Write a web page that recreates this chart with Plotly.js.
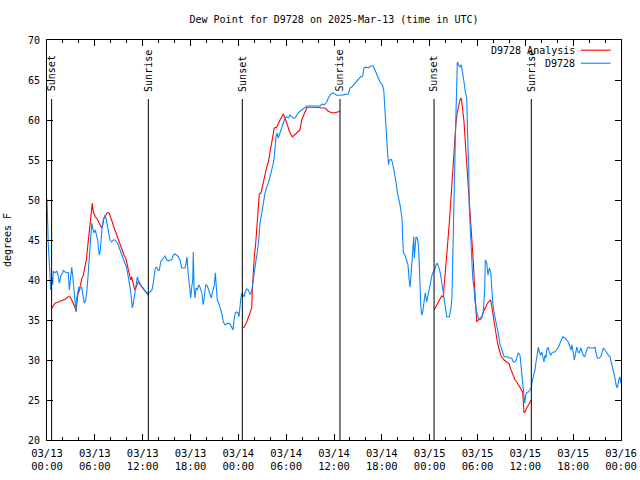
<!DOCTYPE html>
<html>
<head>
<meta charset="utf-8">
<script src="https://cdn.plot.ly/plotly-3.0.1.min.js"></script>
<style>html,body{margin:0;padding:0;background:#fff;}#chart{width:640px;height:480px;}</style>
</head>
<body>
<div id="chart"></div>
<script>
// Hours since 2025-03-13 00:00 UTC
const stationHours = [
0,0.16,0.38,0.46,0.59,0.72,0.79,1.0,1.22,1.42,
1.54,1.76,1.97,2.04,2.26,2.47,2.67,2.80,2.97,3.10,
3.22,3.30,3.42,3.55,3.64,3.73,3.85,3.98,4.05,4.14,
4.35,4.55,4.68,4.85,4.98,5.11,5.23,5.31,5.39,5.48,
5.61,5.73,5.90,6.06,6.23,6.36,6.44,6.56,6.69,6.77,
6.90,7.06,7.28,7.40,7.49,7.61,7.74,7.90,8.12,8.32,
8.53,8.74,8.94,9.16,9.37,9.57,9.78,10.0,10.12,10.25,
10.41,10.57,10.70,10.83,11.0,11.16,11.33,11.45,11.67,11.88,
12.08,12.29,12.51,12.71,12.92,13.17,13.33,13.46,13.59,13.76,
13.96,14.09,14.26,14.43,14.59,14.80,15.02,15.22,15.43,15.64,
15.84,16.06,16.27,16.47,16.68,16.90,17.10,17.31,17.44,17.56,
17.69,17.81,17.94,18.03,18.15,18.28,18.35,18.44,18.57,18.69,
18.85,19.03,19.19,19.41,19.61,19.78,19.91,20.11,20.28,20.45,
20.61,20.74,20.86,20.99,21.11,21.20,21.36,21.54,21.70,21.91,
22.12,22.33,22.54,22.74,22.96,23.17,23.33,23.46,23.62,23.80,
23.96,24.08,24.21,24.34,24.46,24.59,24.71,24.84,25.05,25.25,
25.38,25.50,25.68,25.88,26.00,26.18,26.34,26.51,26.72,26.93,
27.13,27.35,27.56,27.76,27.97,28.19,28.39,28.51,28.60,28.73,
28.85,29.01,29.23,29.44,29.64,29.85,30.07,30.27,30.48,30.70,
30.90,31.11,31.32,31.52,31.74,32.15,32.58,32.99,33.62,34.25,
34.53,34.78,35.09,35.29,35.62,35.91,36.34,36.97,37.38,37.80,
38.01,38.22,38.64,39.05,39.35,39.60,39.76,40.02,40.30,40.61,
40.93,41.14,41.36,41.56,41.77,42.06,42.24,42.36,42.44,42.52,
42.61,42.74,42.86,42.94,43.15,43.31,43.44,43.57,43.78,43.94,
44.12,44.28,44.41,44.53,44.62,44.69,44.91,45.12,45.28,45.41,
45.53,45.66,45.79,45.87,46.00,46.07,46.16,46.29,46.45,46.58,
46.70,46.79,46.88,47.00,47.13,47.29,47.45,47.63,47.79,47.96,
48.13,48.29,48.46,48.63,48.80,48.96,49.14,49.30,49.51,49.71,
49.93,50.14,50.47,50.68,50.80,50.89,50.97,51.05,51.14,51.22,
51.31,51.39,51.47,51.64,51.81,51.97,52.15,52.31,52.47,52.65,
52.77,52.90,52.97,53.10,53.27,53.40,53.56,53.69,53.90,54.10,
54.32,54.53,54.73,54.91,54.98,55.16,55.32,55.48,55.66,55.78,
55.91,56.07,56.24,56.41,56.57,56.70,56.82,56.99,57.16,57.33,
57.49,57.74,57.99,58.29,58.49,58.71,58.92,59.12,59.33,59.46,
59.58,59.71,59.83,59.92,60.05,60.17,60.37,60.59,60.75,60.84,
61.00,61.21,61.34,61.50,61.63,61.75,61.93,62.06,62.18,62.34,
62.47,62.59,62.68,62.85,63.01,63.18,63.35,63.51,63.72,63.94,
64.14,64.35,64.48,64.69,64.98,65.19,65.39,65.61,65.73,65.86,
66.02,66.14,66.27,66.45,66.61,66.77,66.95,67.11,67.27,67.45,
67.61,67.78,67.95,68.11,68.53,68.74,68.87,69.03,69.28,69.46,
69.62,69.78,70.00,70.21,70.41,70.62,70.84,71.04,71.21,71.38,
71.54,71.71,71.88,71.97
];
const stationDewF = [
50.1,44.4,40.4,38.75,40.4,39.4,41.1,40.9,41.1,40.5,
39.6,40.6,40.9,41.25,41,40.9,40.9,38.75,40.6,41.6,
40.6,39.6,38.1,36.6,36,37.75,38.4,39.1,38.5,39,
39.1,38.1,37.1,37.5,38.4,40,41.6,43.4,45,45.9,
47.1,46.5,45.9,46.25,45.4,45,44.1,43.1,43.75,45.4,
46.5,47.5,48.1,47.75,47.1,46.5,45.9,45,44.75,45,
45,44.75,44.4,43.75,43.1,42.75,42.1,41.5,40.9,40,
39.1,37.9,36.5,37.1,38.1,39.6,40.4,40,39.4,39.1,
39,38.6,38.4,38.4,38.5,38.75,39.6,40.9,41.5,41.6,
41.2,41.25,42.25,42.5,42.75,43,42.5,42.4,42.5,42.5,
43.1,43.25,43.1,42.9,42.5,41.5,41.5,41.5,42.1,42.9,
41,39.6,38.6,37.75,39.1,40,43.5,39.1,37.75,39,
38.75,39.4,39.1,38.4,36.9,38.4,39.4,39.25,38.75,38.4,
37.75,38.4,38.75,39.4,40.9,39.1,37.5,37.1,36.6,35.9,
34.75,34.4,34.5,34.6,34.5,34.1,33.75,35,35.9,36,
35.9,35.4,37.1,37.9,38.4,38.1,37.9,38.4,38.9,38.75,
38.4,38.2,38.6,40.2,41.25,42.2,43.2,44.5,47.1,48.4,
49.6,50.9,51.6,52.1,52.9,53.75,54.6,55.4,56.6,57.9,
58.4,57.75,58.4,59.1,59.75,60.25,60.4,60.25,60.6,60.4,
60.25,60.25,60.6,60.9,61.1,61.4,61.75,61.75,61.75,61.75,
62,61.9,62.25,62.75,63.25,63.4,63.1,63.1,63.2,63.25,
64,64.1,64.6,65,65.4,65.5,66.5,66.6,66.5,66.75,
66.75,66.25,65.6,65.25,64.75,64.4,63.75,61.9,59.75,58.1,
56.9,55.6,54.4,55,55.1,54.75,54.1,53.5,52.25,51,
50.25,49.4,48.5,47.75,45.25,43.5,43.1,42.5,41.9,40.25,
39.1,40.6,43.1,44.4,45.4,42.75,44,45.4,45.25,44.4,
41.9,39,36.9,35.6,36,37.25,38.4,37.25,38.1,39,
39.75,40.6,41,41.25,41.9,42.1,41.6,41,39.75,38.5,
37.25,35.4,35.4,36.5,38.1,41.5,44.75,49.75,54,57.75,
61.9,64.75,67.25,66.9,66.6,66.9,66,64.75,63.5,62.75,
57.75,54,49,46.5,42.25,40.25,39,37.25,36,35.25,
35,35.25,36,39,42.5,42.1,40.6,41.5,41,39,
37.25,36,35.25,34.4,33.5,32.75,31.9,31.5,30.9,30.4,
30.4,30.4,30.25,30.25,29.75,29.75,30.25,30.9,30.6,29.1,
27.9,26.9,25,24.6,25.6,25.9,26,26.25,26.5,27.25,
27.9,28.75,29.75,30.9,31.6,31,30.6,31,30.4,29.75,
30.6,30.25,31.25,31.6,31,30.6,30.9,31,31,31.25,
31.6,32.1,32.5,32.9,32.75,32.5,32.25,31.6,31.25,31.9,
30.9,30,30.6,31.6,31,30.9,31.5,31,30.6,30.4,
30.9,31.5,31.6,31.5,31.5,31.6,30.9,30.25,30.25,30.4,
30.9,31.5,31.25,30.9,30.6,30.4,29.6,28.75,27.9,26.9,
26.5,27.5,27.9,27.1
];
// Analysis (night-time segments; null separates segments)
const analysisHours = [
0.58,0.72,1.0,1.42,1.84,2.26,2.67,2.89,3.10,3.30,
3.51,3.64,3.73,3.85,4.05,4.23,4.39,4.55,4.68,4.80,
4.93,5.06,5.18,5.31,5.43,5.56,5.68,5.81,5.93,6.06,
6.23,6.44,6.65,6.86,6.99,7.15,7.36,7.56,7.78,7.99,
8.19,8.40,8.62,8.82,9.03,9.25,9.45,9.66,9.87,10.0,
10.12,10.25,10.37,10.50,10.62,10.75,10.91,11.04,11.45,12.08,
12.71,18.0,
24.55,24.74,25.05,25.34,25.68,25.75,25.88,26.0,26.18,26.30,
26.43,26.51,26.63,26.85,27.01,27.18,27.35,27.56,27.76,27.97,
28.19,28.39,28.51,28.81,29.01,29.23,29.44,29.64,29.85,30.07,
30.27,30.48,30.77,31.11,31.45,31.74,31.95,32.15,32.36,32.58,
32.78,33.20,33.83,34.46,34.87,35.29,35.71,36.13,36.54,36.75,
42.0,
48.55,48.88,49.21,49.51,49.71,49.80,49.96,50.14,50.30,50.47,
50.64,50.80,50.97,51.14,51.31,51.47,51.64,51.81,51.97,52.15,
52.31,52.47,52.65,52.81,52.97,53.15,53.31,53.48,53.60,53.73,
53.90,54.10,54.32,54.53,54.73,54.94,55.16,55.36,55.66,55.82,
55.99,56.16,56.32,56.49,56.66,56.82,56.99,57.16,57.33,57.67,
57.99,58.08,58.29,58.49,58.71,58.92,59.12,59.33,59.54,59.67,
59.83,59.96,60.17,60.37,60.59,60.75
];
const analysisDewF = [
36.4,36.6,37.1,37.25,37.4,37.6,37.9,37.9,37.5,37.1,
36.6,36.1,37.1,38.1,38.75,39.6,40.25,40.6,41.25,41.9,
42.5,43.75,45,46.6,47.75,48.75,49.6,48.5,48.1,47.9,
47.75,47.25,46.9,46.5,46.9,47.75,48.1,48.4,48.4,47.9,
47.25,46.6,46,45.4,44.75,44.1,43.5,43.1,42.75,42.1,
41.5,40.9,40.25,40,40.4,39.6,39.1,38.75,39.8,38.9,
38.1,null,
34.0,34.1,34.75,35.6,36.5,38.75,41.25,42.9,44.6,46.25,
47.9,49.6,50.75,50.9,51.6,52.5,53.4,54.1,54.75,55.9,
56.9,57.9,59,59.1,59.6,60,60.4,60.75,60.25,59.6,
59,58.4,57.9,58.25,58.5,58.75,60,60.5,60.9,61.5,
61.6,61.6,61.6,61.5,61.5,61.1,60.9,60.9,61,61.1,
null,
36.25,36.9,37.5,38,37.9,39.4,41,43.1,44.75,47.25,
49.75,52.25,55.6,57.75,59.75,61,61.9,62.5,62.75,61.5,
59.75,57.25,54.75,52.25,49.75,47.25,44.75,42.25,39.75,37.25,
34.75,35,35.25,35.4,36,36.5,36.9,37.25,37.5,36.5,
35.25,34,33.1,32.25,31.5,30.9,30.4,30.25,30,29.75,
29.5,29.1,28.5,27.9,27.5,27.25,26.9,26.6,26.25,26,
23.4,23.5,24,24.4,24.75,25
];
const sunEventHours = [0.58, 12.71, 24.5, 36.75, 48.55, 60.75];
const sunEventLabels = ['Sunset','Sunrise','Sunset','Sunrise','Sunset','Sunrise'];
const seriesNames = ['D9728 Analysis', 'D9728'];
const seriesColors = ['#ff0000', '#0a88ff'];

const T0 = Date.UTC(2025, 2, 13);
const H = 3600000;
const toT = h => T0 + h * H;
const mono = 'DejaVu Sans Mono, monospace';

const traces = [
  {x: analysisHours.map(toT), y: analysisDewF, type: 'scatter', mode: 'lines', name: seriesNames[0],
   line: {color: seriesColors[0], width: 1.1}, connectgaps: false, showlegend: false},
  {x: stationHours.map(toT), y: stationDewF, type: 'scatter', mode: 'lines', name: seriesNames[1],
   line: {color: seriesColors[1], width: 1.1}, showlegend: false}
];

const shapes = [];
const annotations = [];
sunEventHours.forEach((h, i) => {
  shapes.push({type: 'line', xref: 'x', yref: 'paper', x0: toT(h), x1: toT(h), y0: 0, y1: 0.8525,
    line: {color: '#000', width: 1}});
  annotations.push({xref: 'x', yref: 'paper', x: toT(h), y: 0.866, text: sunEventLabels[i],
    textangle: -90, showarrow: false, xanchor: 'center', yanchor: 'bottom',
    font: {family: mono, size: 10, color: '#000'}});
});
// legend (gnuplot style: text right-aligned, sample to the right)
const legY = [0.9745, 0.942];
seriesNames.forEach((n, i) => {
  annotations.push({xref: 'paper', yref: 'paper', x: 0.9235, y: legY[i], text: n, showarrow: false,
    xanchor: 'right', yanchor: 'middle', font: {family: mono, size: 10, color: '#000'}});
  shapes.push({type: 'line', xref: 'paper', yref: 'paper', x0: 0.930, x1: 0.982, y0: legY[i], y1: legY[i],
    line: {color: seriesColors[i], width: 1.1}});
});

const layout = {
  width: 640, height: 480,
  margin: {l: 47, r: 19, t: 40, b: 40},
  paper_bgcolor: '#fff', plot_bgcolor: '#fff',
  font: {family: mono, size: 10, color: '#000'},
  title: {text: 'Dew Point for D9728 on 2025-Mar-13 (time in UTC)', font: {family: mono, size: 10, color: '#000'},
    xref: 'paper', x: 0.5, xanchor: 'center', yref: 'container', y: 0.96, yanchor: 'middle'},
  xaxis: {type: 'date', range: [T0, toT(72)], tickmode: 'linear', tick0: T0, dtick: 6 * H,
    tickformat: '%m/%d<br>%H:%M', ticks: 'inside', ticklen: 6, tickcolor: '#000', tickwidth: 1,
    ticklabelstandoff: 3,
    showline: true, linecolor: '#000', linewidth: 1, mirror: 'allticks', showgrid: false, zeroline: false,
    minor: {dtick: 2 * H, ticks: 'inside', ticklen: 3, tickcolor: '#000', showgrid: false},
    tickfont: {family: mono, size: 10.5, color: '#000'}},
  yaxis: {range: [20, 70], tickmode: 'linear', tick0: 20, dtick: 5, ticks: 'inside', ticklen: 6,
    ticklabelstandoff: 4,
    tickcolor: '#000', showline: true, linecolor: '#000', linewidth: 1, mirror: 'allticks',
    showgrid: false, zeroline: false, tickfont: {family: mono, size: 10, color: '#000'},
    title: {text: 'degrees F', font: {family: mono, size: 10, color: '#000'}, standoff: 14}},
  shapes: shapes,
  annotations: annotations,
  showlegend: false
};

Plotly.newPlot('chart', traces, layout, {displayModeBar: false, staticPlot: true});
</script>
</body>
</html>
